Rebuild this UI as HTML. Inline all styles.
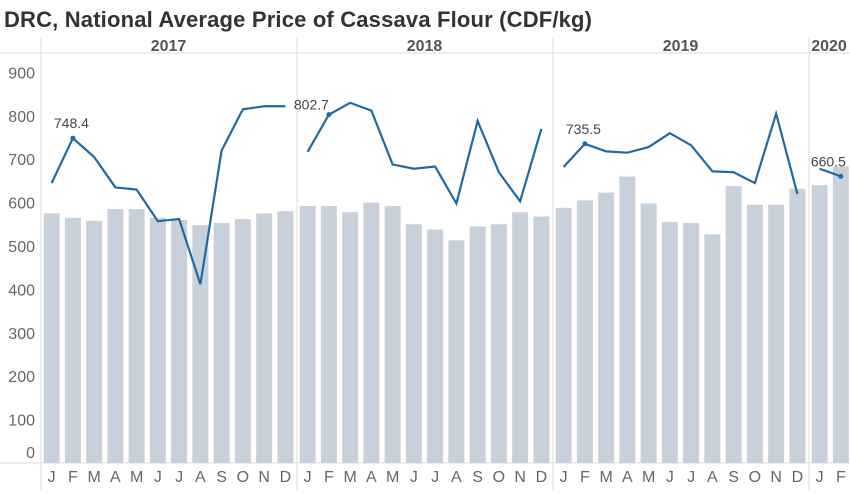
<!DOCTYPE html>
<html><head><meta charset="utf-8"><style>
body{margin:0;background:#fff;width:850px;height:490px;overflow:hidden;font-family:"Liberation Sans",sans-serif}
</style></head><body>
<svg id="chart" width="850" height="490" xmlns="http://www.w3.org/2000/svg">
<text x="4" y="27" font-size="22" font-weight="bold" fill="#333" textLength="588" lengthAdjust="spacing">DRC, National Average Price of Cassava Flour (CDF/kg)</text>
<g id="axes"></g><g id="bars"></g><g id="lines"></g>
</svg>
<script>
const years=['2017','2018','2019','2020'];
const months=['J','F','M','A','M','J','J','A','S','O','N','D','J','F','M','A','M','J','J','A','S','O','N','D','J','F','M','A','M','J','J','A','S','O','N','D','J','F'];
const barValues=[575,565,558,585,585,565,560,548,553,562,575,580,592,592,578,600,592,550,538,513,545,550,578,568,588,605,623,660,598,555,553,527,638,595,595,632,640,683];
const lineValues=[645,748.4,705,635,630,557,562,412,720,815,822,822,717,802.7,830,812,688,678,683,598,788,670,603,770,682,735.5,718,715,728,760,732,672,670,645,805,620,678,660.5];
const labeled=[1,13,25,37];
const yTicks=[0,100,200,300,400,500,600,700,800,900];
const NS='http://www.w3.org/2000/svg';
const x0=41,slot=21.25,yBase=463,k=0.434;
const X=i=>x0+Math.floor(i/12)*1+i*slot+slot/2;
const Y=v=>yBase-v*k;
function mk(t,a,p){const e=document.createElementNS(NS,t);for(const n in a)e.setAttribute(n,a[n]);p.appendChild(e);return e;}
const ax=document.getElementById('axes'),bg=document.getElementById('bars'),lg=document.getElementById('lines');
mk('line',{x1:0,x2:850,y1:53,y2:53,stroke:'#ddd'},ax);
mk('line',{x1:0,x2:850,y1:yBase,y2:yBase,stroke:'#ddd'},ax);
yTicks.forEach(v=>{const t=mk('text',{x:35,y:Math.min(Y(v)+6,458),'text-anchor':'end','font-size':16,fill:'#666'},ax);t.textContent=v;

});
years.forEach((yr,j)=>{const xs=x0+j*12*slot+j;const n=Math.min(12,months.length-j*12);
const l=mk('line',{x1:xs,x2:xs,y1:38,y2:490,stroke:'#ddd'},ax);


const t=mk('text',{x:j==3?xs+20:xs+n*slot/2,y:51,'text-anchor':'middle','font-size':16,'font-weight':'bold',fill:'#555'},ax);t.textContent=yr;

});
months.forEach((m,i)=>{const t=mk('text',{x:X(i),y:482,'text-anchor':'middle','font-size':16,fill:'#666'},ax);t.textContent=m;

});
barValues.forEach((v,i)=>{const r=mk('rect',{x:X(i)-8,y:Y(v),width:16,height:yBase-Y(v),fill:'#c8d0da'},bg);

});
for(let j=0;j<4;j++){const pts=[];for(let i=j*12;i<Math.min(j*12+12,lineValues.length);i++)pts.push(X(i)+','+Y(lineValues[i]));
const p=mk('polyline',{points:pts.join(' '),fill:'none',stroke:'#1f6aa0','stroke-width':2.2},lg);

}
labeled.forEach(i=>{const c=mk('circle',{cx:X(i),cy:Y(lineValues[i]),r:2.5,fill:'#1f6aa0'},lg);


const t=mk('text',{x:i==37?X(i)+5:X(i)-19,y:Y(lineValues[i])-10-(i==13?-5:0),'text-anchor':i==37?'end':'start','font-size':14,fill:'#444'},lg);
if(i==13){t.setAttribute('x',X(i)-35);}
t.textContent=lineValues[i].toFixed(1);

});
</script>
</body></html>
